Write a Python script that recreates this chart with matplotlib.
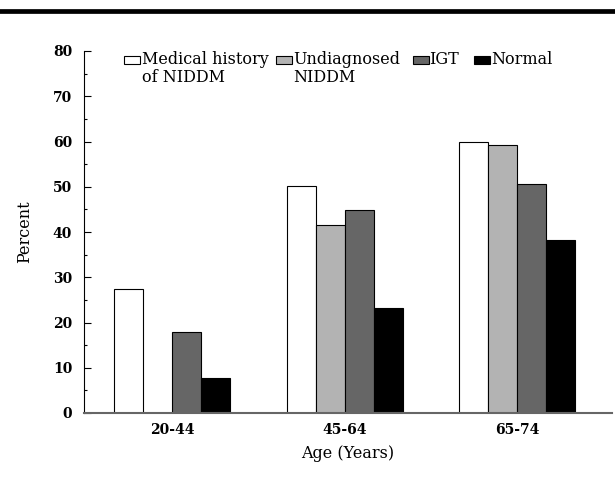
import numpy as np
import matplotlib
matplotlib.use('Agg')
import matplotlib.pyplot as plt
from matplotlib.lines import Line2D
from matplotlib.patches import Rectangle

age_groups = ['20-44', '45-64', '65-74']
series_names = ['Medical history\nof NIDDM', 'Undiagnosed\nNIDDM', 'IGT', 'Normal']
medical_history = [27.3, 50.1, 60.0]
undiagnosed = [0.0, 41.5, 59.2]
igt = [18.0, 44.8, 50.7]
normal = [7.8, 23.1, 38.3]
yticks = [0, 10, 20, 30, 40, 50, 60, 70, 80]

colors = ['white', '#b3b3b3', '#666666', 'black']

plt.rcParams['font.family'] = ['DejaVu Serif']

W, H = 615, 495
fig = plt.figure(figsize=(W / 100, H / 100), dpi=100)
ax = fig.add_axes([84 / W, 1 - 413 / H, (612 - 84) / W, (413 - 51) / H])


def fx(px):
    return px / W


def fy(py):
    return 1 - py / H


x = np.arange(len(age_groups))
w = 0.168
for i, vals in enumerate([medical_history, undiagnosed, igt, normal]):
    pos = x + (i - 1.5) * w
    heights = np.array(vals)
    mask = heights > 0
    ax.bar(pos[mask], heights[mask], width=w, color=colors[i],
           edgecolor='black', linewidth=0.8)

ax.set_xlim(-0.51, 2.55)
ax.set_ylim(0, 80)
ax.set_yticks(yticks)
ax.set_yticks(np.arange(5, 80, 10), minor=True)
ax.set_yticklabels([str(t) for t in yticks], fontsize=10, fontweight='bold')
ax.set_xticks(x)
ax.set_xticklabels(age_groups, fontsize=10, fontweight='bold')
ax.tick_params(axis='x', length=0, pad=7)
ax.tick_params(axis='y', which='major', length=5, width=0.8, direction='in', pad=8.5)
ax.tick_params(axis='y', which='minor', length=2.5, width=0.8, direction='in')

for s in ['top', 'right']:
    ax.spines[s].set_visible(False)
ax.spines['left'].set_linewidth(0.8)
ax.spines['bottom'].set_linewidth(1.5)
ax.spines['bottom'].set_color('#666666')

ax.set_xlabel('Age (Years)', fontsize=11.5, labelpad=6)
ax.set_ylabel('Percent', fontsize=11.5, labelpad=14)

# legend drawn by hand: boxes aligned with the first text line
box_left = [124, 276, 413, 474]
text_left = [142, 293, 429, 491]
for i, name in enumerate(series_names):
    fig.add_artist(Rectangle((fx(box_left[i]), fy(64)), 16 / W, 8 / H,
                             facecolor=colors[i], edgecolor='black',
                             linewidth=0.8, transform=fig.transFigure))
    for k, line in enumerate(name.split('\n')):
        fig.text(fx(text_left[i]), fy(64 + 18 * k), line, fontsize=11.5,
                 va='baseline', ha='left')

fig.add_artist(Line2D([0, 1], [fy(11), fy(11)], color='black',
                      linewidth=3.4, transform=fig.transFigure))

fig.savefig('out.png', dpi=100)
